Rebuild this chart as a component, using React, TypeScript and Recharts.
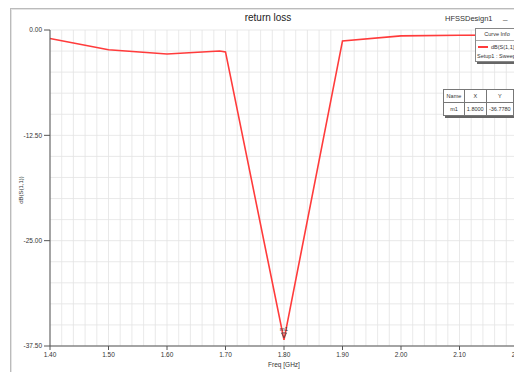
import {
  LineChart,
  Line,
  XAxis,
  YAxis,
  CartesianGrid,
  ReferenceDot,
} from "recharts";

const freq = [1.4, 1.5, 1.6, 1.69, 1.7, 1.8, 1.9, 2.0, 2.1, 2.2];
const s11 = [-1.0, -2.35, -2.85, -2.5, -2.6, -36.78, -1.3, -0.7, -0.62, -0.6];

const majorX = [1.4, 1.5, 1.6, 1.7, 1.8, 1.9, 2.0, 2.1, 2.2];
const minorX = [
  1.4, 1.42, 1.44, 1.46, 1.48, 1.5, 1.52, 1.54, 1.56, 1.58, 1.6, 1.62, 1.64, 1.66, 1.68,
  1.7, 1.72, 1.74, 1.76, 1.78, 1.8, 1.82, 1.84, 1.86, 1.88, 1.9, 1.92, 1.94, 1.96, 1.98,
  2.0, 2.02, 2.04, 2.06, 2.08, 2.1, 2.12, 2.14, 2.16, 2.18, 2.2,
];
const majorY = [0, -12.5, -25, -37.5];
const minorY = [0, -2.5, -5, -7.5, -10, -12.5, -15, -17.5, -20, -22.5, -25, -27.5, -30, -32.5, -35, -37.5];

const xDomain: [number, number] = [1.4, 2.2];
const yDomain: [number, number] = [-37.5, 0];

const markerName = "m1";
const markerX = 1.8;
const markerY = -36.778;

const data = freq.map((f, i) => ({ f, v: s11[i] }));

const font = "'Liberation Sans', Arial, sans-serif";

function MarkerShape(props: any) {
  const { cx, cy } = props;
  return (
    <g>
      <path d={`M${cx - 2.5},${cy - 7} L${cx + 2.5},${cy - 7} L${cx},${cy - 2} Z`} fill="none" stroke="#444" strokeWidth={0.8} />
      <text x={cx} y={cy - 9} fontSize={6} textAnchor="middle" fill="#333" fontFamily={font}>
        {markerName}
      </text>
    </g>
  );
}

// grid at the minor steps, mapped over the plot area
const gridX = ({ offset }: any) =>
  minorX.map((v) => offset.left + ((v - xDomain[0]) / (xDomain[1] - xDomain[0])) * offset.width);
const gridY = ({ offset }: any) =>
  minorY.map((v) => offset.top + ((yDomain[1] - v) / (yDomain[1] - yDomain[0])) * offset.height);

const cell = { border: "1px solid #777", textAlign: "center" as const, padding: "0 1px", whiteSpace: "nowrap" as const };

export default function App() {
  return (
    <div
      style={{
        position: "fixed",
        left: 0,
        top: 0,
        width: 514,
        height: 372,
        overflow: "hidden",
        background: "#fff",
        fontFamily: font,
      }}
    >
      <div
        style={{
          position: "absolute",
          left: 10,
          top: 8,
          width: 520,
          height: 380,
          border: "1px solid #bbb",
          boxShadow: "inset 1px 1px 0 #e4e4e4",
        }}
      />
      <div style={{ position: "absolute", left: 0, top: 0 }}>
        <LineChart
          width={540}
          height={372}
          data={data}
          margin={{ top: 30, right: 22, left: 0, bottom: 0 }}
        >
          <CartesianGrid
            stroke="#e3e3e3"
            strokeWidth={0.8}
            verticalCoordinatesGenerator={gridX}
            horizontalCoordinatesGenerator={gridY}
          />
          <XAxis
            dataKey="f"
            type="number"
            domain={xDomain}
            ticks={majorX}
            interval={0}
            tickFormatter={(t: number) => t.toFixed(2)}
            tick={{ fill: "#333", fontSize: 6.5, fontFamily: font }}
            tickSize={4}
            axisLine={{ stroke: "#555", strokeWidth: 1 }}
            tickLine={{ stroke: "#555" }}
            height={26}
          />
          <YAxis
            type="number"
            domain={yDomain}
            ticks={majorY}
            interval={0}
            tickFormatter={(t: number) => t.toFixed(2)}
            tick={{ fill: "#333", fontSize: 6.5, fontFamily: font }}
            tickSize={6}
            axisLine={{ stroke: "#555", strokeWidth: 1 }}
            tickLine={{ stroke: "#555" }}
            width={50}
          />
          <Line
            type="linear"
            dataKey="v"
            stroke="#ff3b3b"
            strokeWidth={1.6}
            dot={false}
            isAnimationActive={false}
          />
          <ReferenceDot x={markerX} y={markerY} r={2} shape={MarkerShape} />
        </LineChart>
      </div>
      <div
        style={{
          position: "absolute",
          left: 0,
          width: 536,
          top: 12,
          textAlign: "center",
          fontSize: 10,
          color: "#222",
        }}
      >
        return loss
      </div>
      <div style={{ position: "absolute", left: 445, top: 14, fontSize: 7.5, color: "#333" }}>
        HFSSDesign1
      </div>
      <div style={{ position: "absolute", left: 503, top: 12, fontSize: 8, color: "#333" }}>_</div>
      <div
        style={{
          position: "absolute",
          left: 13,
          top: 190,
          fontSize: 6,
          color: "#333",
          transform: "translate(-50%, -50%) rotate(-90deg)",
          transformOrigin: "center",
          whiteSpace: "nowrap",
          marginLeft: 8,
        }}
      >
        dB(S(1,1))
      </div>
      <div
        style={{
          position: "absolute",
          left: 0,
          width: 568,
          top: 361,
          textAlign: "center",
          fontSize: 6.5,
          color: "#333",
        }}
      >
        Freq [GHz]
      </div>
      <div
        style={{
          position: "absolute",
          left: 475,
          top: 28,
          width: 50,
          height: 32,
          background: "#fff",
          border: "1px solid #888",
          boxShadow: "2px 2px 0 #666",
          fontSize: 5.5,
          color: "#333",
        }}
      >
        <div style={{ textAlign: "center", borderBottom: "1px solid #aaa", height: 11, lineHeight: "11px", paddingRight: 8 }}>
          Curve Info
        </div>
        <div style={{ display: "flex", alignItems: "center", height: 10, marginTop: 1 }}>
          <span style={{ display: "inline-block", width: 10, height: 1.5, background: "#ff3b3b", marginLeft: 2, marginRight: 3 }} />
          dB(S(1,1))
        </div>
        <div style={{ height: 8, lineHeight: "8px", marginLeft: 1, whiteSpace: "nowrap" }}>Setup1 : Sweep</div>
      </div>
      <table
        style={{
          position: "absolute",
          left: 443,
          top: 89,
          borderCollapse: "collapse",
          background: "#fff",
          fontSize: 5.5,
          color: "#333",
          boxShadow: "2px 2px 0 #666",
        }}
      >
        <tbody>
          <tr style={{ height: 13 }}>
            <td style={{ ...cell, width: 20 }}>Name</td>
            <td style={{ ...cell, width: 20 }}>X</td>
            <td style={{ ...cell, width: 26 }}>Y</td>
          </tr>
          <tr style={{ height: 13 }}>
            <td style={cell}>{markerName}</td>
            <td style={cell}>{markerX.toFixed(4)}</td>
            <td style={cell}>{markerY.toFixed(4)}</td>
          </tr>
        </tbody>
      </table>
    </div>
  );
}
